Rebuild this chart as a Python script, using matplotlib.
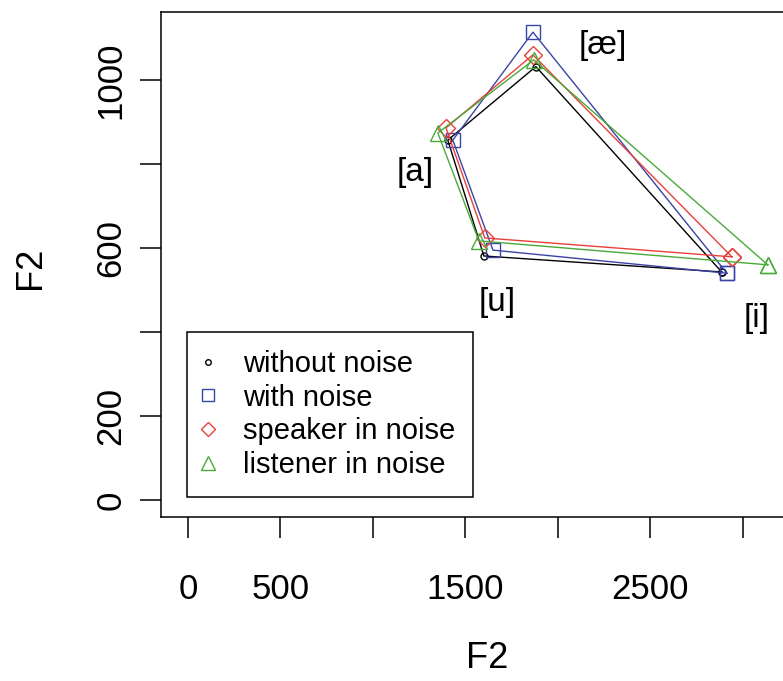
import matplotlib
matplotlib.use("Agg")
import matplotlib.pyplot as plt
from matplotlib import font_manager
from matplotlib.lines import Line2D

# vowel order: [i], [ae], [a], [u]  (closed polygon)
vowels = ["[i]", "[æ]", "[a]", "[u]"]

f2_without = [2886, 1881, 1405, 1600]
f1_without = [543, 1032, 857, 581]

f2_with = [2914, 1865, 1432, 1649]
f1_with = [540, 1114, 857, 595]

f2_speaker = [2941, 1865, 1395, 1605]
f1_speaker = [579, 1060, 886, 624]

f2_listener = [3135, 1870, 1351, 1573]
f1_listener = [560, 1048, 874, 617]

series_names = ["without noise", "with noise", "speaker in noise", "listener in noise"]
colors = ["black", "#3b44a6", "#e8403a", "#4aaa3a"]
markers = ["o", "s", "D", "^"]
msizes = [5, 10, 9, 12]

# where the vowel labels sit (data coords)
label_x = [3076, 2243, 1227, 1670]
label_y = [433, 1083, 779, 471]

xticks = [0, 500, 1000, 1500, 2000, 2500, 3000]
xticklabels = ["0", "500", "", "1500", "", "2500", ""]
yticks = [0, 200, 400, 600, 800, 1000]
yticklabels = ["0", "200", "", "600", "", "1000"]

names = {f.name for f in font_manager.fontManager.ttflist}
if "Liberation Sans Narrow" in names:
    tickfont = "Liberation Sans Narrow"
    ticksize = 29
else:
    tickfont = "Liberation Sans"
    ticksize = 25
plt.rcParams['font.family'] = ['Liberation Sans', 'DejaVu Sans']

W, H = 783, 681
fig = plt.figure(figsize=(W / 100, H / 100), dpi=100)
# right edge of the box runs off the picture, as in the original
ax = fig.add_axes([161 / W, (H - 517) / H, (890 - 161) / W, 505 / H])

data = [(f2_without, f1_without), (f2_with, f1_with),
        (f2_speaker, f1_speaker), (f2_listener, f1_listener)]
for (xs, ys), c, m, s in zip(data, colors, markers, msizes):
    ax.plot(xs + xs[:1], ys + ys[:1], color=c, lw=1.0, marker=m, ms=s,
            mfc='none', mec=c, mew=1.0)

for lab, lx, ly in zip(vowels, label_x, label_y):
    ax.text(lx, ly, lab, fontsize=24, ha='center', va='center')

ax.set_xlim(-146, 3796)
ax.set_ylim(-40.5, 1162)

ax.set_xticks(xticks)
ax.set_xticklabels(xticklabels, fontfamily=tickfont, fontsize=ticksize)
ax.set_yticks(yticks)
ax.set_yticklabels(yticklabels, fontfamily=tickfont, fontsize=ticksize,
                   rotation=90, va='center')
ax.tick_params(length=15, width=1.1, color='black')
ax.tick_params(axis='x', pad=25)
ax.tick_params(axis='y', pad=9)
for sp in ax.spines.values():
    sp.set_linewidth(1.1)

ax.set_xlabel("F2", fontfamily=tickfont, fontsize=ticksize + 1)
ax.xaxis.set_label_coords((487 - 161) / (890 - 161), -(658 - 517) / 505)
ax.xaxis.label.set_va('center')
ax.set_ylabel("F2", fontfamily=tickfont, fontsize=ticksize + 1)
ax.yaxis.set_label_coords((48 - 161) / (890 - 161), (517 - 268) / 505)

handles = [Line2D([], [], ls='none', marker=m, ms=s * 0.8, mfc='none', mec=c, mew=1.0)
           for c, m, s in zip(colors, markers, msizes)]
leg = fig.legend(handles, series_names, loc='upper left',
                 bbox_to_anchor=(187 / W, 1 - 332 / H), bbox_transform=fig.transFigure,
                 fontsize=21, frameon=True, fancybox=False, edgecolor='black',
                 framealpha=1, borderpad=0.62, handlelength=0.2, handletextpad=1.1,
                 labelspacing=0.19, borderaxespad=0)
leg.get_frame().set_linewidth(1.1)

fig.savefig("out.png", dpi=100)
